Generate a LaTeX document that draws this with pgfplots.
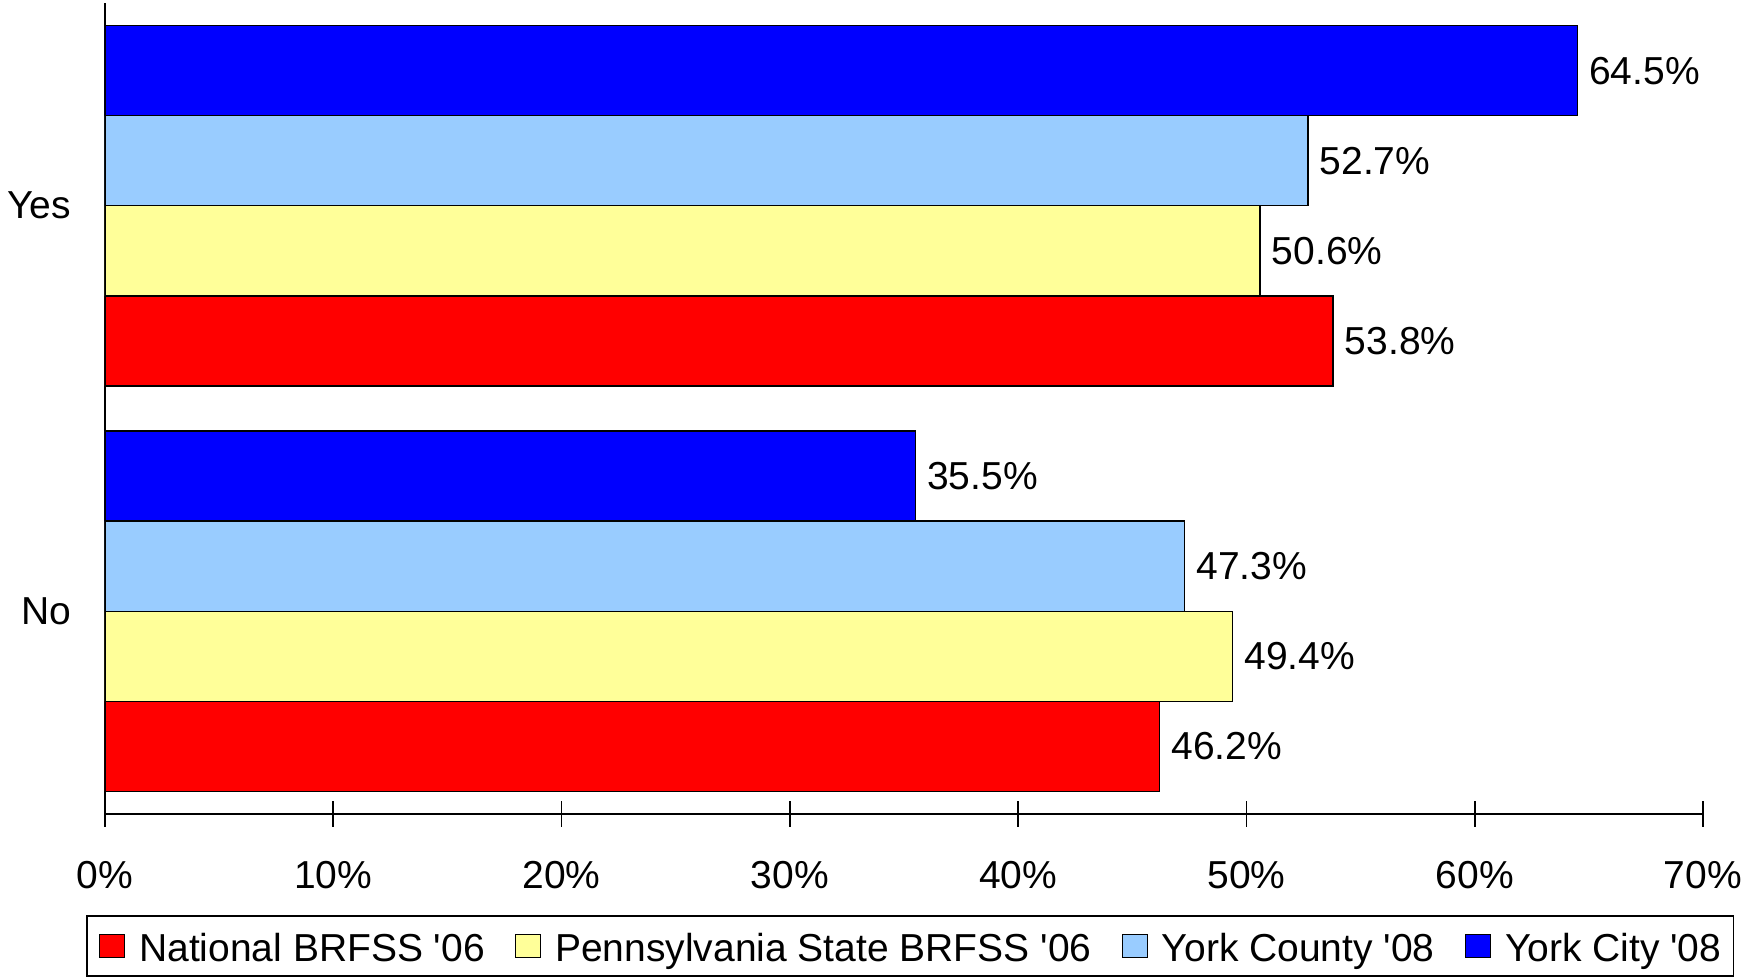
\documentclass[border=0pt]{standalone}
\usepackage{fontspec}
\setmainfont{Liberation Sans}
\usepackage{pgfplots}
\pgfplotsset{compat=1.18}
\definecolor{cRed}{HTML}{FF0000}
\definecolor{cYel}{HTML}{FFFF99}
\definecolor{cLb}{HTML}{99CCFF}
\definecolor{cBl}{HTML}{0000FF}
\begin{document}
\begin{tikzpicture}[font=\fontsize{19.5}{23}\selectfont]
\path[use as bounding box] (-52.5pt,-81.5pt) rectangle (821pt,407pt);
\begin{axis}[
  at={(0,0)}, anchor=south west,
  scale only axis,
  width=799pt, height=405.5pt,
  xbar,
  bar width=0.2222,
  xmin=0, xmax=70,
  ymin=-0.5, ymax=1.5,
  axis x line*=bottom, axis y line*=left,
  axis line style={line width=0.9pt},
  xtick={0,10,...,70},
  xticklabel={\pgfmathprintnumber{\tick}\%},
  /pgf/number format/assume math mode=true,
  tick align=center,
  major tick length=13pt,
  x tick style={line width=0.9pt, black},
  ytick={0,1}, yticklabels={No,Yes},
  y tick style={draw=none},
  xticklabel style={anchor=north, yshift=-13.7pt},
  yticklabel style={anchor=east, xshift=-7pt},
  point meta=x,
  nodes near coords={\pgfmathprintnumber[fixed,fixed zerofill,precision=1]{\pgfplotspointmeta}\%},
  nodes near coords style={anchor=west, inner sep=0pt, xshift=5.5pt, black},
  legend columns=4,
  legend image code/.code={\draw[#1, draw=black, line width=0.7pt] (0pt,-5.75pt) rectangle (12.5pt,5.75pt);},
  legend style={at={(-0.0119,-0.1245)}, anchor=north west, draw=black, line width=0.8pt,
    inner xsep=6pt, inner ysep=6pt,
    nodes={inner sep=0pt, text height=16.7pt, text depth=1.5pt},
    /tikz/every odd column/.append style={column sep=7pt},
    /tikz/every even column/.append style={column sep=15pt}},
]
\addplot[fill=cRed, draw=black, line width=0.7pt, bar shift=-0.3333] coordinates {(46.2,0) (53.8,1)};
\addplot[fill=cYel, draw=black, line width=0.7pt, bar shift=-0.1111] coordinates {(49.4,0) (50.6,1)};
\addplot[fill=cLb, draw=black, line width=0.7pt, bar shift=0.1111] coordinates {(47.3,0) (52.7,1)};
\addplot[fill=cBl, draw=black, line width=0.7pt, bar shift=0.3333] coordinates {(35.5,0) (64.5,1)};
\legend{National BRFSS \textquotesingle06, Pennsylvania State BRFSS \textquotesingle06, York County \textquotesingle08, York City \textquotesingle08}
\end{axis}
\end{tikzpicture}
\end{document}
